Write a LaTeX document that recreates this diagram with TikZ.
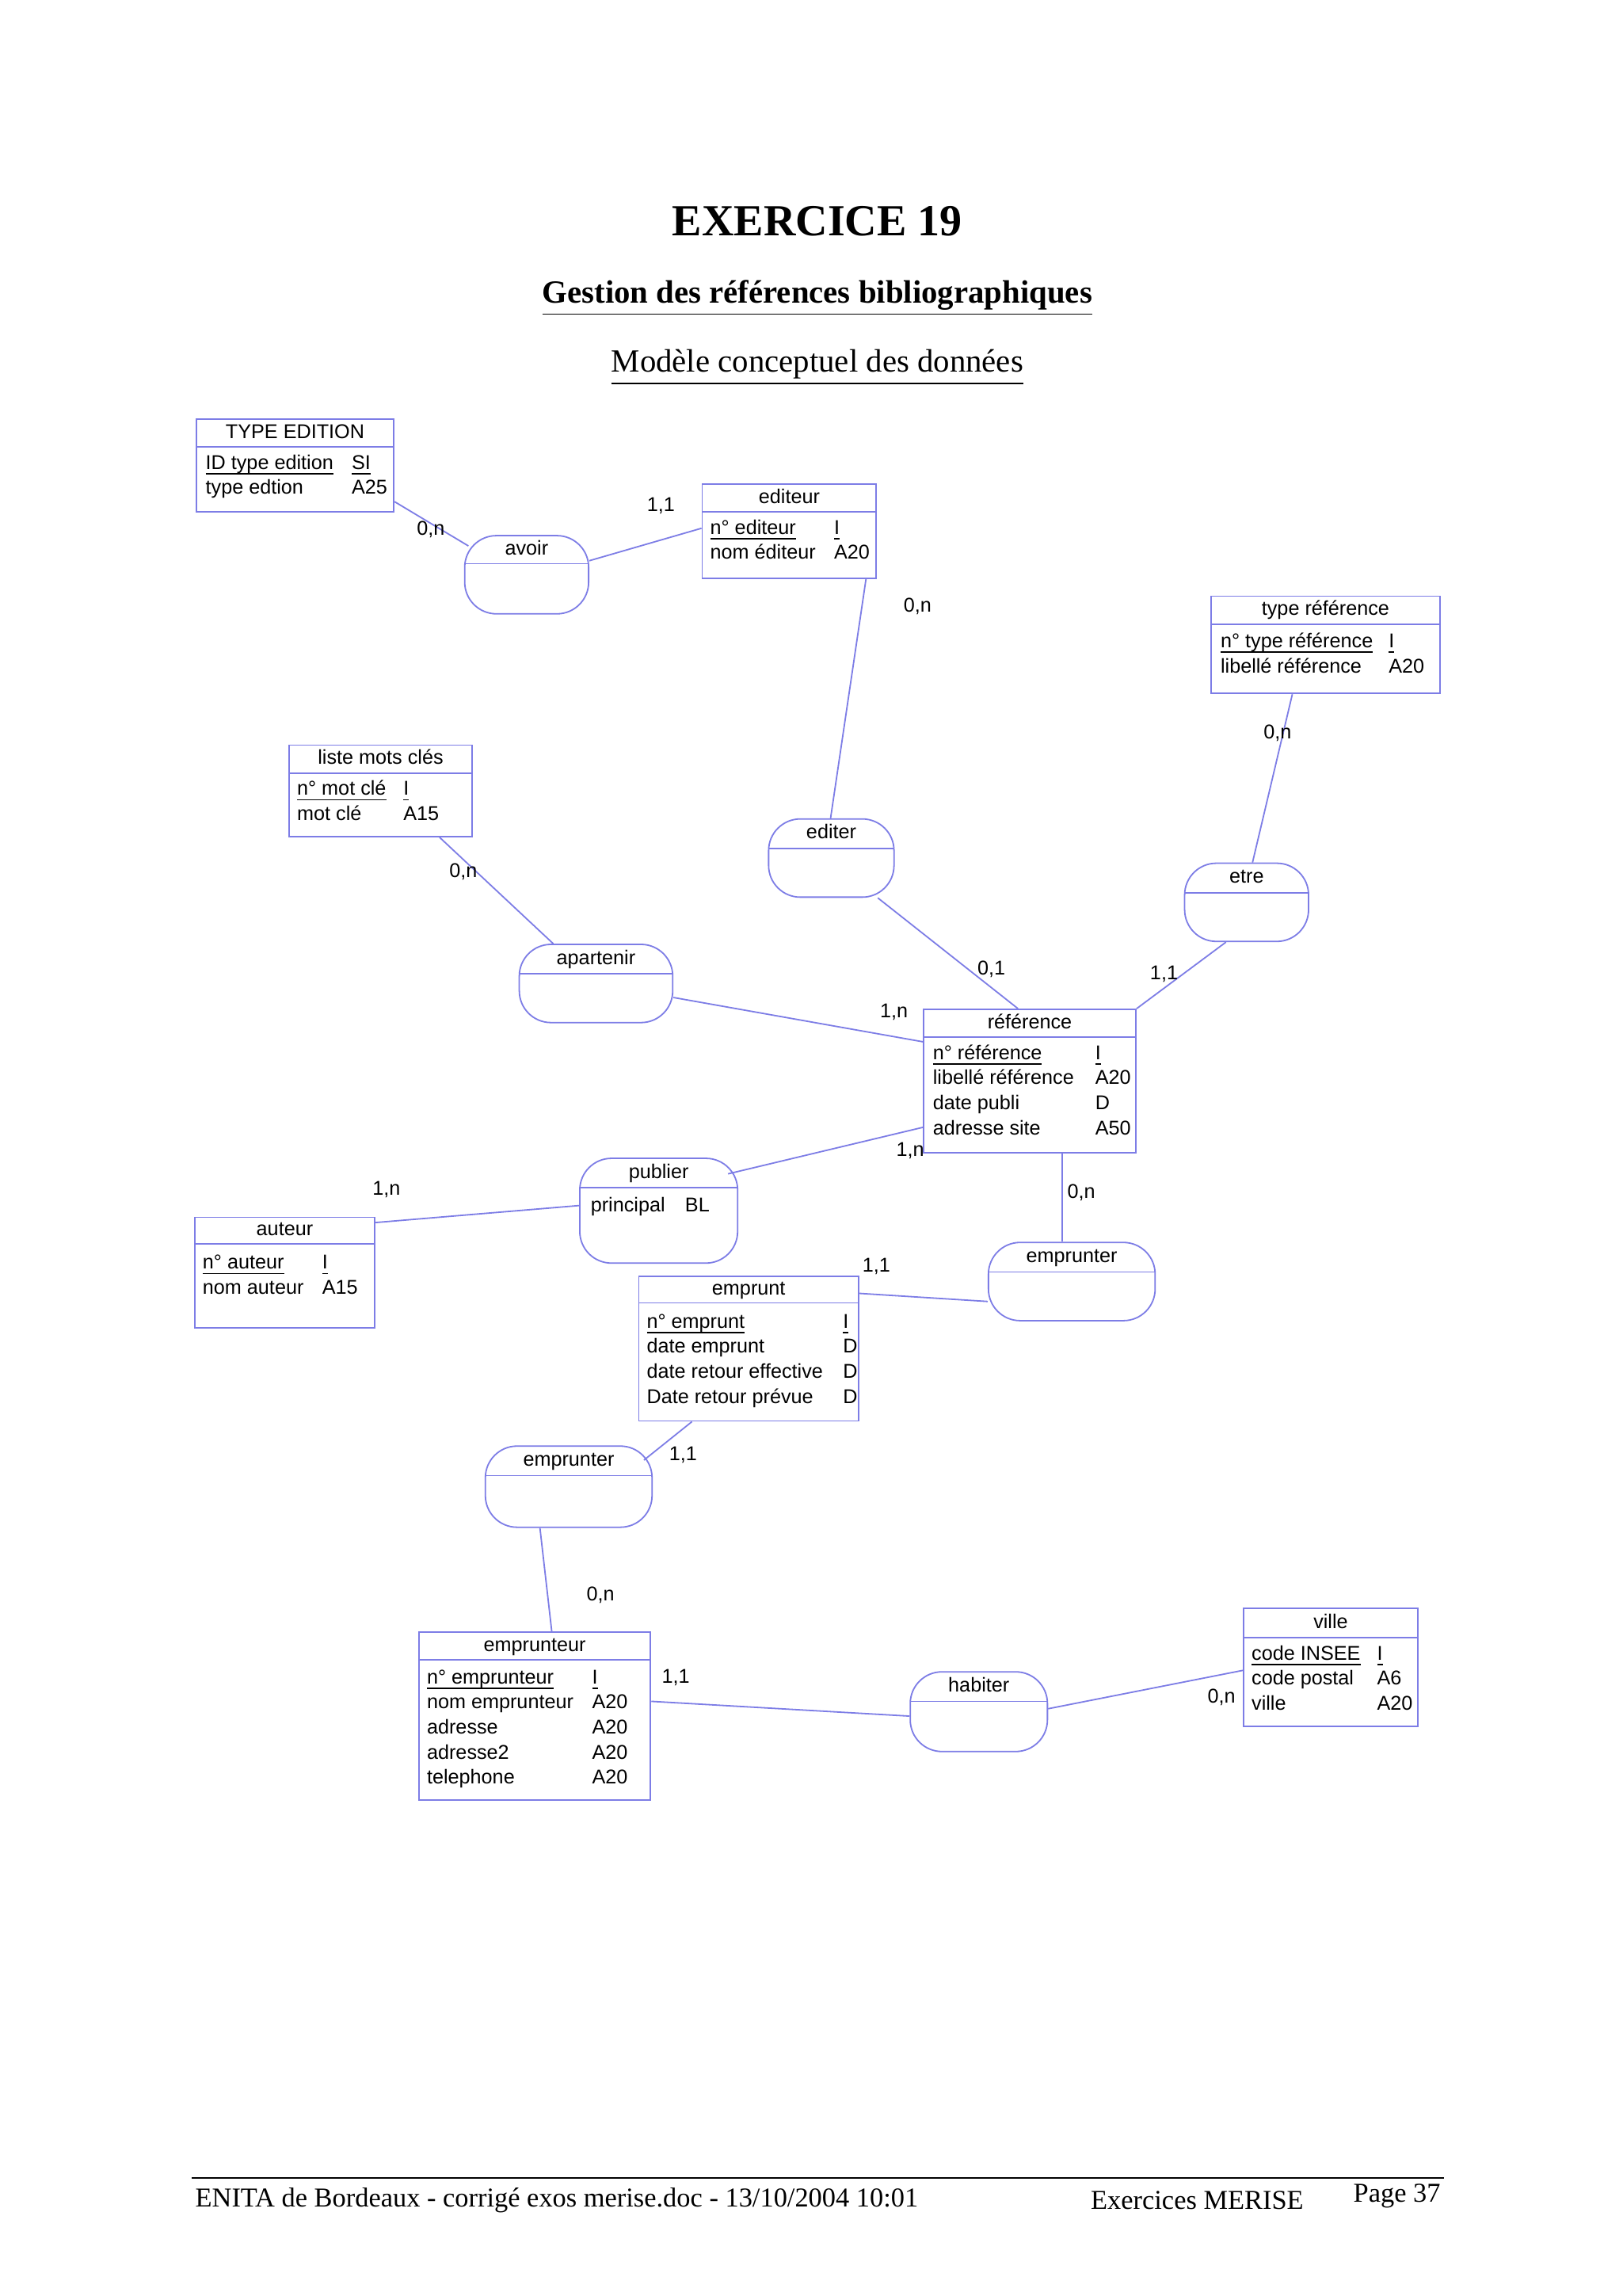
\documentclass[tikz,border=0pt]{standalone}
\usepackage{fontspec}
\setmainfont{Liberation Serif}
\newfontfamily\sansf{Liberation Sans}
\usetikzlibrary{fit}
\definecolor{ln}{RGB}{125,125,230}
\tikzset{x=0.4655pt,y=-0.4655pt,
  box/.style={draw=ln,line width=0.45pt,fill=white,inner sep=0pt},
  rel/.style={box,rounded corners=10pt},
  lk/.style={draw=ln,line width=0.45pt},
  txt/.style={font=\sansf\fontsize{6.3}{8}\selectfont,inner sep=0pt,anchor=base west,text height=4.6pt,text depth=1.3pt},
  ttl/.style={font=\sansf\fontsize{6.3}{8}\selectfont,inner sep=0pt,text height=4.6pt,text depth=1.3pt},
  card/.style={font=\sansf\fontsize{6.3}{8}\selectfont,inner sep=0pt}}
\newcommand\ul[1]{\underline{\smash{#1}}}
% #1 name #2 x1 #3 y1 #4 x2 #5 y2 #6 header line y #7 title #8 style
\newcommand\mybox[8]{%
  \node[#8,fit={(#2,#3)(#4,#5)}] (#1) {};
  \draw[lk] (#2,#6) -- (#4,#6);
  \node[ttl] (#1-t) at ({(#2+#4)/2},{(#3+#6)/2}) {#7};}
\begin{document}
\begin{tikzpicture}
\useasboundingbox (0,0) rectangle (1100,1556);
\fill[white] (0,0) rectangle (1100,1556);
% titles
\node[font=\bfseries\fontsize{14}{16}\selectfont,inner sep=0pt] (t1) at (554,150) {EXERCICE 19};
\node[font=\bfseries\fontsize{10.2}{12}\selectfont,inner sep=0pt] (t2) at (554,202) {\underline{Gestion des références bibliographiques}};
\node[font=\fontsize{10.2}{12}\selectfont,inner sep=0pt] (t3) at (554,249) {\underline{Modèle conceptuel des données}};
% entities (rows given by baseline y)
\mybox{te}{133}{284}{267}{347}{303}{TYPE EDITION}{box}
\node[txt] (te1) at (139,318) {\ul{ID type edition}};
\node[txt] (te2) at (238,318) {\ul{SI}};
\node[txt] (te3) at (139,335) {type edtion};
\node[txt] (te4) at (238,335) {A25};
\mybox{ed}{476}{328}{594}{392}{347}{editeur}{box}
\node[txt] (ed1) at (481,362) {\ul{n° editeur}};
\node[txt] (ed2) at (565,362) {\ul{I}};
\node[txt] (ed3) at (481,379) {nom éditeur};
\node[txt] (ed4) at (565,379) {A20};
\mybox{tr}{821}{404}{976}{470}{423}{type référence}{box}
\node[txt] (tr1) at (827,439) {\ul{n° type référence}};
\node[txt] (tr2) at (941,439) {\ul{I}};
\node[txt] (tr3) at (827,456) {libellé référence};
\node[txt] (tr4) at (941,456) {A20};
\mybox{lm}{196}{505}{320}{567}{524}{liste mots clés}{box}
\node[txt] (lm1) at (201,539) {\ul{n° mot clé}};
\node[txt] (lm2) at (273,539) {\ul{I}};
\node[txt] (lm3) at (201,556) {mot clé};
\node[txt] (lm4) at (273,556) {A15};
\mybox{ref}{626}{684}{770}{781}{703}{référence}{box}
\node[txt] (r1) at (632,718) {\ul{n° référence}};
\node[txt] (r2) at (742,718) {\ul{I}};
\node[txt] (r3) at (632,735) {libellé référence};
\node[txt] (r4) at (742,735) {A20};
\node[txt] (r5) at (632,752) {date publi};
\node[txt] (r6) at (742,752) {D};
\node[txt] (r7) at (632,769) {adresse site};
\node[txt] (r8) at (742,769) {A50};
\mybox{au}{132}{825}{254}{900}{843}{auteur}{box}
\node[txt] (au1) at (137,860) {\ul{n° auteur}};
\node[txt] (au2) at (218,860) {\ul{I}};
\node[txt] (au3) at (137,877) {nom auteur};
\node[txt] (au4) at (218,877) {A15};
\mybox{em}{433}{865}{582}{963}{883}{emprunt}{box}
\node[txt] (em1) at (438,900) {\ul{n° emprunt}};
\node[txt] (em2) at (571,900) {\ul{I}};
\node[txt] (em3) at (438,917) {date emprunt};
\node[txt] (em4) at (571,917) {D};
\node[txt] (em5) at (438,934) {date retour effective};
\node[txt] (em6) at (571,934) {D};
\node[txt] (em7) at (438,951) {Date retour prévue};
\node[txt] (em8) at (571,951) {D};
\mybox{ep}{284}{1106}{441}{1220}{1125}{emprunteur}{box}
\node[txt] (ep1) at (289,1141) {\ul{n° emprunteur}};
\node[txt] (ep2) at (401,1141) {\ul{I}};
\node[txt] (ep3) at (289,1158) {nom emprunteur};
\node[txt] (ep4) at (401,1158) {A20};
\node[txt] (ep5) at (289,1175) {adresse};
\node[txt] (ep6) at (401,1175) {A20};
\node[txt] (ep7) at (289,1192) {adresse2};
\node[txt] (ep8) at (401,1192) {A20};
\node[txt] (ep9) at (289,1209) {telephone};
\node[txt] (ep10) at (401,1209) {A20};
\mybox{vi}{843}{1090}{961}{1170}{1110}{ville}{box}
\node[txt] (vi1) at (848,1125) {\ul{code INSEE}};
\node[txt] (vi2) at (933,1125) {\ul{I}};
\node[txt] (vi3) at (848,1142) {code postal};
\node[txt] (vi4) at (933,1142) {A6};
\node[txt] (vi5) at (848,1159) {ville};
\node[txt] (vi6) at (933,1159) {A20};
% relations
\mybox{avoir}{315}{363}{399}{416}{382}{avoir}{rel}
\mybox{editer}{521}{555}{606}{608}{575}{editer}{rel}
\mybox{etre}{803}{585}{887}{638}{605}{etre}{rel}
\mybox{apart}{352}{640}{456}{693}{660}{apartenir}{rel}
\mybox{pub}{393}{785}{500}{856}{805}{publier}{rel}
\node[txt] (pub1) at (400,821) {principal};
\node[txt] (pub2) at (464,821) {BL};
\mybox{erR}{670}{842}{783}{895}{862}{emprunter}{rel}
\mybox{erL}{329}{980}{442}{1035}{1000}{emprunter}{rel}
\mybox{hab}{617}{1133}{710}{1187}{1153}{habiter}{rel}
% links
\draw[lk] ([shift={(0,24.5)}]te.east) -- ([shift={(3,-19.5)}]avoir.west);
\draw[lk] ([shift={(0,-9.5)}]avoir.east) -- ([shift={(0,-2)}]ed.west);
\draw[lk] ([shift={(52,0)}]ed.south) -- ([shift={(-0.5,0)}]editer.north);
\draw[lk] ([shift={(31.5,0)}]editer.south) -- ([shift={(-8,0)}]ref.north);
\draw[lk] ([shift={(-22.5,0)}]tr.south) -- ([shift={(4,0)}]etre.north);
\draw[lk] ([shift={(-14,0)}]etre.south) -- (ref.north east);
\draw[lk] ([shift={(40,0)}]lm.south) -- ([shift={(-29,0)}]apart.north);
\draw[lk] ([shift={(0,9.5)}]apart.east) -- ([shift={(0,-26.5)}]ref.west);
\draw[lk] ([shift={(-7,11)}]pub.north east) -- ([shift={(0,31.5)}]ref.west);
\draw[lk] ([shift={(0,4)}]au.north east) -- ([shift={(0,-3.5)}]pub.west);
\draw[lk] ([shift={(22,0)}]ref.south) -- ([shift={(-6.5,0)}]erR.north);
\draw[lk] ([shift={(0,12)}]em.north east) -- ([shift={(0,13.5)}]erR.west);
\draw[lk] ([shift={(-38.5,0)}]em.south) -- ([shift={(-6,10)}]erL.north east);
\draw[lk] ([shift={(-19.5,0)}]erL.south) -- ([shift={(11.5,0)}]ep.north);
\draw[lk] ([shift={(0,-10)}]ep.east) -- ([shift={(0,3)}]hab.west);
\draw[lk] ([shift={(0,-2)}]hab.east) -- ([shift={(0,2)}]vi.west);
% cardinalities
\node[card] (c1) at (292,359) {0,n};
\node[card] (c2) at (448,343) {1,1};
\node[card] (c3) at (622,411) {0,n};
\node[card] (c4) at (672,657) {0,1};
\node[card] (c5) at (866,497) {0,n};
\node[card] (c6) at (789,660) {1,1};
\node[card] (c7) at (314,591) {0,n};
\node[card] (c8) at (606,686) {1,n};
\node[card] (c9) at (617,780) {1,n};
\node[card] (c10) at (262,806) {1,n};
\node[card] (c11) at (733,808) {0,n};
\node[card] (c12) at (594,858) {1,1};
\node[card] (c13) at (463,986) {1,1};
\node[card] (c14) at (407,1081) {0,n};
\node[card] (c15) at (458,1137) {1,1};
\node[card] (c16) at (828,1150) {0,n};
% footer
\coordinate (f1) at (130,1476);
\coordinate (f2) at (979,1476);
\draw[line width=0.6pt] (f1) -- (f2);
\node[font=\fontsize{8.6}{10}\selectfont,inner sep=0pt,anchor=west] (ft1) at (132,1491) {ENITA de Bordeaux - corrigé exos merise.doc - 13/10/2004 10:01};
\node[font=\fontsize{8.6}{10}\selectfont,inner sep=0pt,anchor=west] (ft2) at (739,1491) {Exercices MERISE};
\node[font=\fontsize{8.6}{10}\selectfont,inner sep=0pt,anchor=west] (ft3) at (917,1488) {Page 37};
\end{tikzpicture}
\end{document}
